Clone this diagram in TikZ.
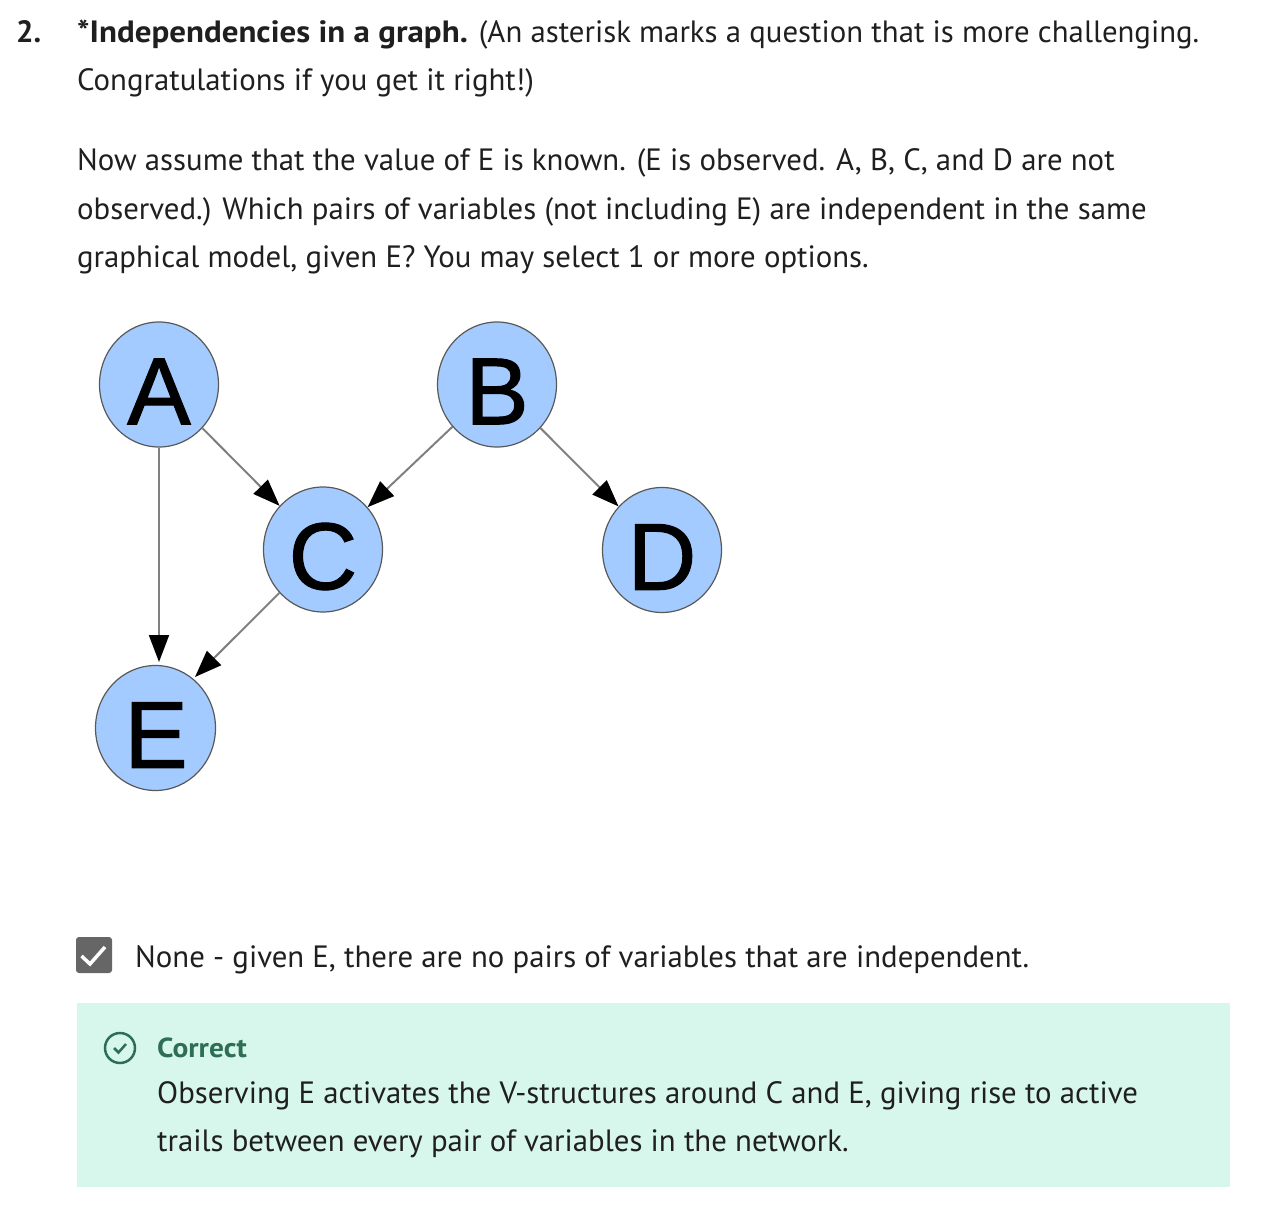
\documentclass[tikz,border=0pt]{standalone}
\usepackage{fontspec}
\setmainfont{PT Sans}
\newfontfamily\widebold[FakeStretch=1.07]{PT Sans}
\newfontfamily\graphfont[FakeBold=1.2]{Liberation Sans}
\usetikzlibrary{arrows.meta,shapes.geometric}
\definecolor{txt}{HTML}{1F1F1F}
\definecolor{nodeblue}{HTML}{A3CBFF}
\definecolor{okbg}{HTML}{D7F7EC}
\definecolor{okfg}{HTML}{2D6E55}
\definecolor{boxgray}{HTML}{666666}
\tikzset{
 line/.style={anchor=base west,inner sep=0pt,text=txt,font=\fontsize{30.8pt}{34pt}\selectfont},
 gnode/.style={ellipse,draw=black!65,fill=nodeblue,minimum width=119pt,minimum height=125pt,inner sep=0pt,line width=1.2pt},
 glabel/.style={inner sep=0pt,font=\graphfont\fontsize{95pt}{95pt}\selectfont,text=black},
 gedge/.style={draw=black!50,line width=2pt,-{Triangle[length=27pt,width=20pt,color=black]}},
}
\begin{document}
\begin{tikzpicture}[x=1pt,y=-1pt]
\useasboundingbox (0,0) rectangle (1270,1212);
\node[line,font=\fontsize{30.8pt}{34pt}\selectfont\bfseries] (num) at (16,43) {2.};
\node[line] (l1) at (77,43) {{\widebold\bfseries *Independencies in a graph.} (An asterisk marks a question that is more challenging.};
\node[line] (l2) at (77,91) {Congratulations if you get it right!)};
\node[line] (l3) at (77,171) {Now assume that the value of E is known. (E is observed. A, B, C, and D are not};
\node[line] (l4) at (77,219) {observed.) Which pairs of variables (not including E) are independent in the same};
\node[line] (l5) at (77,267) {graphical model, given E? You may select 1 or more options.};
\node[gnode] (A) at (159,384.5) {};
\node[gnode] (B) at (497,384.5) {};
\node[gnode] (C) at (323,549.5) {};
\node[gnode] (D) at (662,550) {};
\node[gnode,minimum width=120pt] (E) at (155.5,728) {};
\node[glabel] (a) at (159,391.5) {A};
\node[glabel] (b) at (497,391.5) {B};
\node[glabel] (c) at (323,556.5) {C};
\node[glabel] (d) at (662,557) {D};
\node[glabel] (e) at (156,735) {E};
\coordinate (Etop) at (159,662);
\coordinate (Eside) at (195,677);
\draw[gedge] (A) -- (C);
\draw[gedge] (B) -- (C);
\draw[gedge] (B) -- (D);
\draw[gedge] (A) -- (Etop);
\draw[gedge] (C) -- (Eside);
\node[fill=boxgray,rounded corners=3pt,minimum size=36pt,inner sep=0pt] (chk) at (94,955) {};
\draw[white,line width=3.5pt] (81.5,956) -- (90,964) -- (105,947);
\node[line] (opt) at (135,967) {None - given E, there are no pairs of variables that are independent.};
\fill[okbg] (77,1003) rectangle (1230,1187);
\node[circle,draw=okfg,line width=2.5pt,minimum size=30pt,inner sep=0pt] (ok) at (120,1048) {};
\draw[okfg,line width=2.5pt] (114,1048) -- (118.5,1052.5) -- (126,1044);
\node[line,text=okfg,font=\fontsize{27.5pt}{30pt}\selectfont\widebold\bfseries] (cor) at (157,1057) {Correct};
\node[line] (e1) at (157,1103) {Observing E activates the V-structures around C and E, giving rise to active};
\node[line] (e2) at (157,1151) {trails between every pair of variables in the network.};
\end{tikzpicture}
\end{document}
